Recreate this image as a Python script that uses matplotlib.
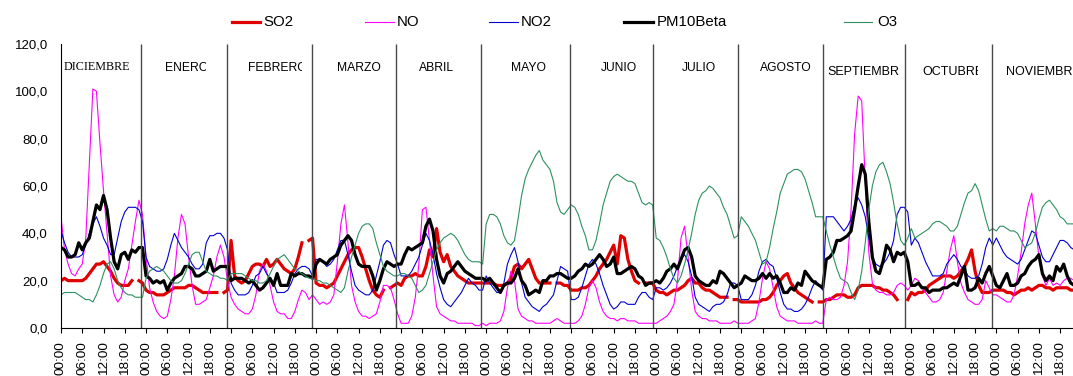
import numpy as np
import matplotlib
matplotlib.use("Agg")
import matplotlib.pyplot as plt
from matplotlib.lines import Line2D
from matplotlib.transforms import Bbox, TransformedBbox

plt.rcParams['font.family'] = ['Liberation Sans', 'DejaVu Sans']

nan = np.nan

# perfiles horarios medios por mes (00:00 ... 23:00), de diciembre a noviembre
meses = ["DICIEMBRE", "ENERO", "FEBRERO", "MARZO", "ABRIL", "MAYO", "JUNIO",
         "JULIO", "AGOSTO", "SEPTIEMBRE", "OCTUBRE", "NOVIEMBRE"]
horas = ["00:00", "06:00", "12:00", "18:00"]

so2 = [
    [20, 21, 20, 20, 20, 20, 20, 21, 23, 25, 27, 27, 28, 26, 24, 21, 19, 18, 18, 18, 20, nan, 20, 19],
    [16, 15, 15, 14, 14, 14, 15, 16, 17, 17, 17, 17, 18, 18, 17, 16, 15, 15, 15, 15, 15, nan, 15, 16],
    [37, 22, 20, 19, 20, 23, 26, 27, 27, 26, 29, 26, 27, 29, 27, 25, 24, 23, 25, 30, 36, nan, 37, 38],
    [19, 18, 18, 17, 18, 19, 22, 25, 28, 31, 33, 34, 34, 30, 25, 20, 16, 14, 13, 16, nan, 17, 18, 19],
    [18, 21, 22, 22, 23, 22, 22, 26, 33, 30, 42, 32, 28, 31, 26, 24, 22, 21, 20, 19, 19, 19, 19, 19],
    [19, 19, 19, 18, 18, 18, 19, 21, 26, 27, 25, 27, 29, 25, 21, 19, 19, 19, 19, nan, 19, 19, 18, 18],
    [16, 16, 16, 17, 17, 18, 20, 22, 25, 27, 29, 32, 35, 27, 39, 38, 29, 24, 20, 19, nan, 19, 19, 19],
    [16, 15, 15, 14, 15, 16, 16, 17, 18, 20, 21, 19, 19, 17, 16, 16, 15, 14, 13, 13, 13, nan, 12, 12],
    [11, 11, 11, 11, 11, 11, 12, 12, 13, 15, 18, 20, 22, 23, 19, 17, 15, 14, 13, 12, 11, nan, 11, 11],
    [12, 12, 13, 14, 14, 14, 13, 13, 14, 17, 18, 18, 18, 18, 17, 17, 16, 16, 15, 14, 12, nan, nan, 12],
    [15, 14, 15, 15, 16, 18, 19, 20, 21, 22, 22, 22, 21, 22, 24, 26, 29, 33, 24, 18, 15, 15, 15, 16],
    [16, 16, 16, 15, 15, 14, 15, 16, 16, 17, 16, 17, 18, 18, 17, 17, 16, 17, 17, 17, 17, 16, 16, 16],
]

no = [
    [47, 33, 27, 23, 22, 25, 27, 38, 70, 101, 100, 78, 58, 40, 22, 14, 11, 13, 20, 25, 35, 45, 54, 48],
    [30, 17, 11, 7, 5, 4, 5, 12, 22, 38, 48, 44, 30, 18, 10, 10, 11, 12, 17, 22, 30, 35, 30, 20],
    [13, 10, 8, 7, 6, 6, 8, 14, 24, 27, 24, 18, 11, 7, 6, 6, 4, 4, 7, 12, 16, 15, 12, 14],
    [12, 10, 11, 10, 11, 14, 28, 44, 52, 36, 18, 11, 7, 5, 5, 4, 5, 6, 11, 18, 18, 17, 12, 6],
    [2, 2, 2, 5, 13, 27, 50, 51, 37, 22, 9, 6, 5, 4, 3, 3, 2, 2, 2, 2, 2, 1, 1, 2],
    [1, 2, 2, 2, 3, 7, 17, 24, 20, 8, 5, 4, 3, 3, 2, 2, 2, 2, 2, 3, 4, 3, 2, 2],
    [2, 2, 3, 5, 10, 17, 20, 17, 11, 7, 5, 4, 4, 3, 4, 4, 3, 3, 3, 2, 2, 2, 2, 2],
    [2, 3, 4, 5, 7, 10, 20, 38, 43, 30, 16, 7, 5, 4, 4, 3, 3, 3, 2, 2, 2, 2, 3, 2],
    [2, 2, 2, 3, 4, 11, 21, 28, 25, 17, 9, 5, 4, 3, 3, 3, 2, 2, 2, 2, 2, 3, 2, 2],
    [12, 13, 12, 12, 13, 18, 28, 50, 82, 98, 96, 62, 32, 19, 16, 15, 15, 14, 14, 15, 18, 19, 18, 16],
    [18, 21, 20, 17, 15, 13, 11, 11, 12, 15, 24, 33, 39, 28, 19, 15, 12, 11, 10, 10, 12, 20, 17, 14],
    [14, 13, 12, 11, 11, 14, 22, 32, 44, 52, 57, 44, 30, 22, 18, 21, 18, 19, 18, 20, 21, 21, 20, 19],
]

no2 = [
    [41, 36, 32, 30, 30, 30, 31, 35, 40, 44, 47, 43, 38, 35, 31, 31, 38, 45, 49, 51, 51, 51, 50, 45],
    [30, 26, 25, 24, 24, 25, 29, 35, 40, 37, 34, 32, 30, 27, 25, 25, 27, 36, 39, 39, 40, 40, 38, 33],
    [19, 16, 14, 14, 14, 15, 18, 22, 23, 26, 23, 21, 19, 15, 15, 15, 16, 19, 23, 25, 26, 26, 25, 22],
    [29, 29, 28, 26, 27, 29, 33, 37, 37, 31, 24, 18, 16, 15, 14, 14, 16, 22, 28, 35, 37, 36, 31, 27],
    [22, 22, 22, 24, 27, 30, 35, 40, 37, 31, 23, 17, 12, 10, 9, 11, 13, 15, 18, 21, 19, 18, 16, 16],
    [22, 19, 17, 15, 15, 19, 27, 31, 34, 28, 19, 13, 11, 9, 8, 7, 9, 10, 12, 14, 20, 26, 25, 24],
    [12, 12, 13, 17, 22, 27, 29, 27, 23, 18, 14, 10, 8, 9, 11, 11, 10, 10, 10, 13, 15, 15, 13, 12],
    [17, 17, 16, 17, 19, 22, 26, 29, 31, 28, 22, 13, 10, 9, 8, 7, 9, 10, 10, 11, 14, 19, 19, 18],
    [12, 12, 12, 14, 18, 24, 28, 29, 27, 26, 21, 15, 10, 8, 8, 7, 7, 8, 10, 13, 17, 20, 18, 16],
    [47, 47, 47, 45, 43, 41, 43, 46, 52, 55, 52, 47, 38, 30, 27, 26, 27, 29, 32, 37, 48, 51, 51, 49],
    [35, 38, 36, 32, 28, 25, 22, 22, 22, 23, 27, 29, 31, 29, 26, 25, 22, 21, 21, 22, 27, 34, 38, 35],
    [38, 35, 32, 30, 29, 28, 27, 29, 33, 37, 41, 40, 35, 30, 28, 28, 31, 34, 37, 37, 36, 34, 33, 33],
]

pm10 = [
    [34, 33, 30, 30, 31, 36, 33, 36, 38, 45, 52, 50, 56, 50, 38, 28, 25, 31, 32, 29, 33, 32, 34, 34],
    [22, 21, 19, 20, 19, 20, 16, 19, 21, 22, 23, 26, 26, 25, 22, 22, 23, 24, 29, 24, 25, 26, 26, 26],
    [20, 21, 21, 21, 20, 19, 20, 18, 16, 17, 19, 21, 18, 23, 18, 18, 18, 23, 22, 23, 23, 22, 22, 21],
    [27, 29, 28, 27, 29, 30, 31, 35, 37, 39, 37, 31, 27, 26, 26, 26, 22, 16, 20, 25, 28, 27, 26, 27],
    [27, 31, 34, 33, 34, 35, 36, 43, 46, 41, 29, 22, 19, 23, 24, 26, 28, 26, 24, 23, 22, 21, 21, 21],
    [20, 21, 19, 17, 15, 18, 19, 19, 21, 25, 20, 18, 14, 15, 16, 15, 20, 20, 22, 22, 23, 23, 22, 21],
    [21, 22, 24, 25, 27, 26, 27, 29, 31, 29, 26, 27, 30, 23, 23, 24, 25, 26, 25, 22, 21, 18, 19, 19],
    [20, 19, 21, 24, 25, 27, 25, 29, 33, 34, 30, 22, 20, 19, 18, 18, 20, 19, 24, 23, 21, 19, 17, 18],
    [19, 22, 21, 20, 20, 21, 23, 21, 23, 21, 22, 19, 15, 15, 17, 16, 19, 18, 24, 22, 20, 19, 18, 17],
    [29, 30, 32, 37, 37, 38, 39, 41, 50, 60, 69, 65, 45, 30, 24, 23, 28, 35, 33, 28, 32, 31, 32, 28],
    [18, 18, 19, 17, 17, 15, 16, 16, 16, 17, 17, 18, 19, 18, 22, 26, 16, 16, 17, 21, 19, 23, 26, 22],
    [18, 17, 20, 23, 18, 18, 19, 22, 23, 26, 28, 29, 31, 23, 20, 22, 20, 26, 24, 27, 22, 19, 18, 18],
]

o3 = [
    [14, 15, 15, 15, 15, 14, 13, 12, 12, 11, 14, 18, 23, 27, 28, 25, 20, 17, 15, 14, 14, 13, 13, 13],
    [21, 24, 25, 26, 25, 24, 22, 20, 19, 19, 20, 23, 27, 31, 32, 32, 28, 24, 23, 22, 22, 21, 21, 20],
    [23, 23, 23, 23, 22, 21, 20, 20, 19, 19, 20, 23, 26, 29, 30, 31, 29, 27, 25, 24, 23, 22, 21, 21],
    [20, 20, 19, 19, 18, 17, 16, 15, 17, 24, 30, 35, 40, 43, 44, 44, 42, 36, 31, 26, 24, 23, 22, 22],
    [23, 23, 22, 21, 18, 15, 16, 18, 23, 28, 33, 36, 38, 39, 40, 39, 37, 34, 31, 29, 28, 28, 28, 27],
    [44, 48, 48, 47, 44, 39, 36, 35, 37, 46, 56, 63, 67, 70, 73, 75, 71, 69, 67, 62, 53, 49, 48, 50],
    [52, 51, 48, 43, 39, 33, 33, 37, 44, 52, 57, 62, 64, 65, 64, 63, 62, 62, 61, 57, 53, 52, 53, 52],
    [38, 37, 34, 30, 25, 21, 19, 22, 27, 33, 40, 48, 54, 57, 58, 60, 59, 57, 55, 51, 48, 43, 38, 39],
    [47, 45, 43, 40, 37, 32, 27, 28, 34, 42, 49, 57, 61, 65, 66, 67, 67, 66, 63, 58, 53, 47, 47, 47],
    [41, 35, 30, 25, 21, 20, 19, 15, 12, 16, 24, 36, 50, 60, 66, 69, 70, 66, 61, 53, 44, 37, 35, 38],
    [42, 38, 39, 40, 41, 42, 44, 45, 45, 44, 43, 41, 41, 43, 48, 53, 57, 58, 61, 58, 52, 46, 41, 42],
    [41, 43, 43, 42, 41, 41, 40, 37, 34, 35, 36, 40, 46, 51, 53, 54, 52, 50, 47, 46, 44, 44, 44, 44],
]

# lineas que separan los meses (en horas desde el inicio)
divisiones = [22.7, 46.8, 70.8, 94.5, 118.5, 143.7, 167.2, 191.2, 215.1, 238.1, 262.9]

# rotulos de los meses: hora de inicio, altura y hora donde se corta la caja
pos_mes = [0.85, 29.35, 52.8, 77.9, 100.9, 126.9, 152.3, 175.3, 197.2, 216.3, 243.0, 266.6]
alt_mes = [110.3, 110, 110, 110, 110, 110, 110, 110, 110, 108, 108, 108]
corte_mes = [None, 40.9, 68.0, None, None, None, None, None, None, 236.9, 258.8, None]

W, H = 1073, 376
fig = plt.figure(figsize=(W / 100, H / 100), dpi=100)
ax = fig.add_axes([61 / W, 48 / H, 287 * 3.543 / W, 284 / H])

x = np.arange(24 * len(meses))
series = [
    ("SO2", so2, "#E00000", 2.3),
    ("NO", no, "#FF00FF", 0.8),
    ("NO2", no2, "#0000D0", 0.8),
    ("PM10Beta", pm10, "#000000", 2.3),
    ("O3", o3, "#2E9060", 0.8),
]
for nombre, valores, color, grosor in series:
    y = np.array(valores, dtype=float).ravel()
    ax.plot(x, y, color=color, lw=grosor, label=nombre)

ax.set_xlim(0, 287)
ax.set_ylim(0, 120)

ax.vlines(divisiones, 0, 120, colors="#4a4a4a", lw=1.0, clip_on=False)

ax.set_yticks(np.arange(0, 121, 20))
ax.set_yticklabels([f"{v:.1f}".replace(".", ",") for v in np.arange(0, 121, 20)])
ax.tick_params(axis="y", length=0, pad=9.5, labelsize=9.5)

ax.set_xticks(np.arange(0, 288, 6))
ax.set_xticklabels(horas * len(meses), rotation=90)
ax.tick_params(axis="x", direction="out", length=3.4, width=0.8, pad=6.0, labelsize=9.7)

for lado in ["top", "right"]:
    ax.spines[lado].set_visible(False)
for lado in ["left", "bottom"]:
    ax.spines[lado].set_linewidth(0.8)
    ax.spines[lado].set_color("black")

for i, mes in enumerate(meses):
    familia = "Liberation Serif" if mes == "DICIEMBRE" else "Liberation Sans"
    tam = 9.0 if alt_mes[i] < 110 else 8.7
    t = ax.text(pos_mes[i], alt_mes[i], mes, ha="left", va="center",
                fontsize=tam, family=familia)
    if corte_mes[i] is not None:
        caja = Bbox([[pos_mes[i] - 1, 0], [corte_mes[i], 120]])
        t.set_clip_box(TransformedBbox(caja, ax.transData))
        t.set_clip_on(True)

# leyenda superior
ley_linea = [231.7, 365.0, 489.3, 624.0, 844.0]
ley_texto = [263.3, 396.7, 520.7, 656.7, 877.0]
y_ley = 1 - 22 / H
for (nombre, valores, color, grosor), x0, xt in zip(series, ley_linea, ley_texto):
    fig.add_artist(Line2D([x0 / W, (x0 + 28.5) / W], [y_ley, y_ley],
                          transform=fig.transFigure, color=color, lw=grosor))
    fig.text(xt / W, y_ley, nombre, va="center", ha="left", fontsize=10.8)

fig.savefig("out.png", dpi=100)
